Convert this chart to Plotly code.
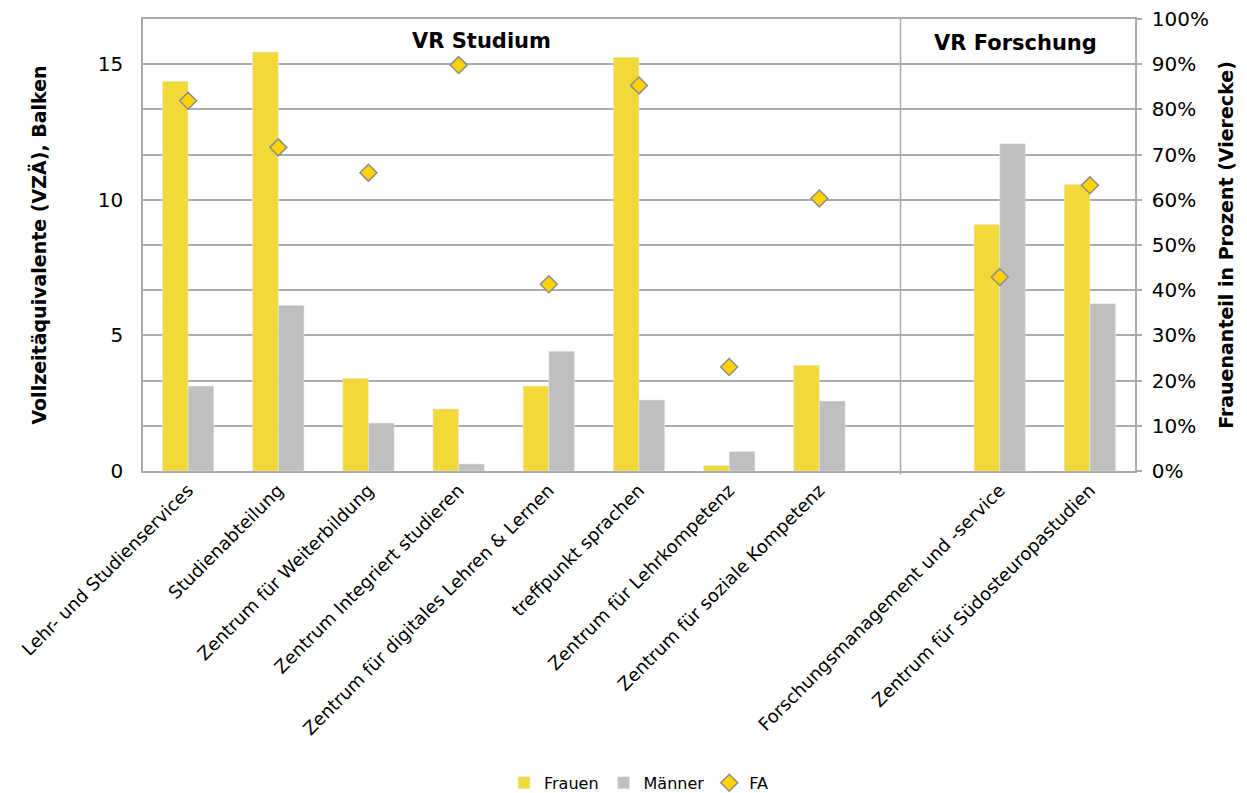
import plotly.graph_objects as go

# Organisationseinheiten (x=8 bleibt als Abstand zwischen den Bereichen leer)
kategorien = [
    "Lehr- und Studienservices",
    "Studienabteilung",
    "Zentrum für Weiterbildung",
    "Zentrum Integriert studieren",
    "Zentrum für digitales Lehren & Lernen",
    "treffpunkt sprachen",
    "Zentrum für Lehrkompetenz",
    "Zentrum für soziale Kompetenz",
    "Forschungsmanagement und -service",
    "Zentrum für Südosteuropastudien",
]
positionen = [0, 1, 2, 3, 4, 5, 6, 7, 9, 10]

frauen = [14.37, 15.45, 3.42, 2.29, 3.13, 15.26, 0.20, 3.90, 9.09, 10.56]
maenner = [3.13, 6.11, 1.77, 0.26, 4.42, 2.62, 0.72, 2.58, 12.07, 6.17]
fa = [0.819, 0.716, 0.66, 0.898, 0.413, 0.853, 0.23, 0.603, 0.429, 0.632]

links_ticks = [0, 5, 10, 15]
rechts_ticks = [0, 0.1, 0.2, 0.3, 0.4, 0.5, 0.6, 0.7, 0.8, 0.9, 1.0]
rechts_text = [f"{int(round(v * 100))}%" for v in rechts_ticks]

FONT = "Verdana, DejaVu Sans, sans-serif"
GELB = "#F2D93A"
GRAU = "#BFBFBF"
GITTER = "#ABABAB"

fig = go.Figure()
fig.add_trace(go.Bar(x=positionen, y=frauen, name="Frauen", marker_color=GELB))
fig.add_trace(go.Bar(x=positionen, y=maenner, name="Männer", marker_color=GRAU))
fig.add_trace(go.Scatter(
    x=positionen, y=fa, name="FA", mode="markers", yaxis="y2",
    marker=dict(symbol="diamond", size=13, color="#FFD200",
                line=dict(color="#8C8C8C", width=1.5)),
))

ymax = 5 / 0.3  # 5 VZÄ entsprechen 30 %

fig.update_layout(
    width=1247, height=793,
    margin=dict(l=143, r=112, t=19, b=322, autoexpand=False),
    paper_bgcolor="white", plot_bgcolor="white",
    font=dict(family=FONT, size=18, color="#000000"),
    barmode="group", bargap=0.43, bargroupgap=0,
    xaxis=dict(
        range=[-0.5, 10.5], tickmode="array", tickvals=positionen,
        ticktext=kategorien, tickangle=-45, tickfont=dict(size=18),
        showgrid=False, showline=True, linecolor=GITTER, linewidth=1.5,
        mirror=True, ticks="", zeroline=False, automargin=False,
    ),
    yaxis=dict(
        range=[0, ymax], tickmode="array", tickvals=links_ticks,
        tickfont=dict(size=20), showgrid=True, gridcolor=GITTER, gridwidth=1.5,
        minor=dict(dtick=5 / 3, tick0=0, showgrid=True, gridcolor=GITTER, gridwidth=1.5),
        showline=True, linecolor=GITTER, linewidth=1.5, zeroline=False,
        ticks="", ticklabelstandoff=14, automargin=False,
        title=dict(text="<b>Vollzeitäquivalente (VZÄ), Balken</b>",
                   font=dict(size=19), standoff=46),
    ),
    yaxis2=dict(
        range=[0, 1], overlaying="y", side="right", tickmode="array",
        tickvals=rechts_ticks, ticktext=rechts_text, tickfont=dict(size=20),
        showgrid=False, zeroline=False, showline=True, linecolor=GITTER,
        linewidth=1.5, ticks="outside", ticklen=5, tickwidth=1.5,
        tickcolor=GITTER, ticklabelstandoff=6, automargin=False,
        title=dict(text="<b>Frauenanteil in Prozent (Vierecke)</b>",
                   font=dict(size=19), standoff=12),
    ),
    legend=dict(
        orientation="h", x=0.5, xanchor="center", y=-0.69, yanchor="middle",
        font=dict(size=16), itemwidth=30, traceorder="normal",
    ),
    shapes=[dict(
        type="line", xref="x", yref="paper", x0=7.9, x1=7.9, y0=-0.008, y1=1,
        line=dict(color=GITTER, width=1.5), layer="below",
    )],
    annotations=[
        dict(text="<b>VR Studium</b>", x=3.25, y=0.951, xref="x", yref="paper",
             yanchor="middle", showarrow=False, font=dict(size=21)),
        dict(text="<b>VR Forschung</b>", x=9.17, y=0.947, xref="x", yref="paper",
             yanchor="middle", showarrow=False, font=dict(size=21)),
    ],
)

fig.write_html("out.html")
